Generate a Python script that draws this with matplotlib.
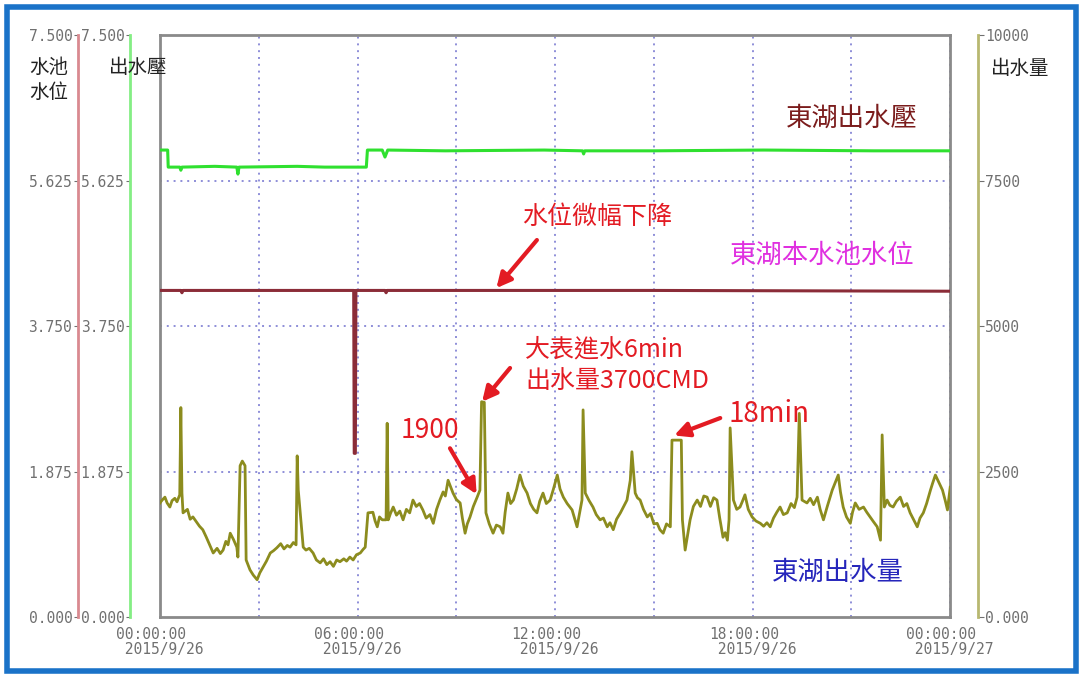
import matplotlib
matplotlib.use("Agg")
import matplotlib.pyplot as plt
from matplotlib.patches import Rectangle

plt.rcParams["font.family"] = ["Noto Sans CJK TC", "DejaVu Sans"]

# minutes since 2015/9/26 00:00, outlet flow in CMD
flow_min = [0, 4, 9, 13, 18, 22, 27, 31, 36, 38,
            40, 42, 50, 55, 60, 66, 72, 78, 84, 90,
            97, 104, 110, 115, 120, 124, 128, 134, 140, 142,
            146, 150, 155, 157, 164, 170, 177, 182, 188, 194,
            201, 207, 213, 220, 226, 232, 237, 243, 248, 250,
            252, 261, 266, 272, 279, 285, 292, 298, 304, 310,
            316, 322, 328, 335, 340, 346, 352, 358, 365, 370,
            374, 379, 388, 392, 396, 400, 405, 412, 414, 416,
            420, 425, 431, 437, 443, 449, 455, 461, 467, 473,
            479, 485, 492, 498, 504, 510, 516, 520, 525, 529,
            534, 540, 547, 551, 556, 560, 565, 571, 578, 583,
            586, 591, 594, 600, 607, 613, 620, 625, 629, 634,
            639, 644, 650, 656, 662, 669, 675, 681, 687, 692,
            698, 704, 711, 717, 724, 729, 735, 742, 751, 760,
            769, 771, 775, 782, 789, 795, 802, 808, 815, 820,
            826, 832, 839, 845, 851, 857, 860, 866, 870, 875,
            881, 888, 894, 900, 906, 911, 917, 923, 930, 933,
            950, 952, 957, 966, 972, 979, 985, 991, 997, 1003,
            1009, 1015, 1020, 1026, 1030, 1034, 1037, 1039, 1045, 1051,
            1057, 1061, 1066, 1072, 1079, 1086, 1094, 1100, 1106, 1112,
            1118, 1124, 1130, 1136, 1143, 1150, 1156, 1161, 1165, 1170,
            1179, 1185, 1191, 1198, 1203, 1209, 1216, 1225, 1230, 1236,
            1240, 1245, 1251, 1258, 1262, 1267, 1274, 1282, 1288, 1294,
            1300, 1307, 1313, 1316, 1320, 1325, 1330, 1336, 1342, 1349,
            1355, 1361, 1367, 1373, 1380, 1385, 1391, 1397, 1404, 1408,
            1413, 1420, 1426, 1431, 1435, 1440]
flow_cmd = [1960, 2010, 2060, 1960, 1890, 2000, 2040, 1980, 2100, 3600,
            2130, 1790, 1850, 1680, 1720, 1640, 1560, 1500, 1380, 1250,
            1100, 1180, 1090, 1150, 1300, 1240, 1440, 1330, 1200, 1030,
            2600, 2680, 2600, 980, 810, 720, 640, 760, 860, 960,
            1100, 1140, 1190, 1260, 1170, 1230, 1200, 1280, 1240, 2770,
            2180, 1200, 1150, 1180, 1100, 980, 930, 1000, 900, 950,
            870, 980, 950, 1000, 960, 1030, 980, 1070, 1100, 1160,
            1200, 1790, 1800, 1650, 1550, 1720, 1670, 1670, 3330, 1670,
            1780, 1890, 1750, 1820, 1670, 1850, 1790, 2010, 1900, 1950,
            1840, 1700, 1760, 1610, 1850, 2010, 2150, 2080, 2350, 2250,
            2130, 2020, 1960, 1700, 1440, 1600, 1720, 1900, 2060, 2180,
            3700, 3690, 1790, 1600, 1440, 1580, 1550, 1440, 1800, 2130,
            1950, 2010, 2200, 2440, 2250, 2130, 1950, 1850, 1790, 1990,
            2130, 1950, 2010, 2200, 2440, 2200, 2060, 1950, 1840, 1550,
            2010, 3560, 2130, 2000, 1890, 1760, 1670, 1700, 1550, 1620,
            1500, 1680, 1790, 1900, 2010, 2350, 2840, 2130, 2050, 2010,
            1850, 1720, 1780, 1600, 1610, 1500, 1440, 1600, 1550, 3040,
            3040, 1670, 1150, 1670, 1900, 2010, 1900, 2080, 2060, 1900,
            2050, 2010, 1700, 1370, 1450, 1320, 1670, 3250, 2010, 1850,
            1890, 1980, 2100, 1850, 1720, 1650, 1610, 1560, 1620, 1550,
            1700, 1800, 1890, 1760, 1790, 1950, 1880, 2060, 3500, 2010,
            1960, 2040, 1930, 2060, 1850, 1670, 1900, 2180, 2300, 2440,
            2150, 1890, 1720, 1610, 1800, 1960, 1850, 1890, 1800, 1720,
            1640, 1550, 1320, 3130, 1890, 2010, 1920, 1890, 1990, 2060,
            1900, 1950, 1790, 1680, 1550, 1700, 1790, 1950, 2180, 2300,
            2440, 2300, 2180, 2000, 1840, 2230]

press_min = [0, 14, 15, 36, 38, 40, 100, 140, 142, 144, 250, 300,
             376, 378, 405, 410, 415, 520, 700, 770, 772, 774, 900, 1100, 1300, 1440]
press_val = [6.02, 6.02, 5.80, 5.80, 5.76, 5.80, 5.81, 5.80, 5.71, 5.80, 5.81, 5.80,
             5.80, 6.02, 6.02, 5.93, 6.02, 6.01, 6.02, 6.01, 5.97, 6.01, 6.01, 6.02, 6.01, 6.01]

level_min = [0, 38, 40, 42, 200, 353, 354, 356, 357, 410, 412, 414, 900, 1440]
level_val = [4.21, 4.21, 4.18, 4.21, 4.21, 4.21, 2.11, 2.11, 4.21, 4.21, 4.18, 4.21, 4.21, 4.20]

tick_min = [0, 180, 360, 540, 720, 900, 1080, 1260, 1440]
tick_text = ["00:00:00\n 2015/9/26", "", "06:00:00\n 2015/9/26", "",
             "12:00:00\n 2015/9/26", "", "18:00:00\n 2015/9/26", "",
             "00:00:00\n 2015/9/27"]
left_ticks = [0, 1.875, 3.75, 5.625, 7.5]
left_labels = ["0.000", "1.875", "3.750", "5.625", "7.500"]
flow_ticks = [0, 2500, 5000, 7500, 10000]
flow_labels = ["0.000", "2500", "5000", "7500", "10000"]

TICK_FONT = dict(family="DejaVu Sans Mono", size=10.5)
TICK_COLOR = "#707070"
RED = "#e31b23"

fig = plt.figure(figsize=(10.81, 6.78), dpi=100)
ax = fig.add_axes([0.148, 0.090, 0.731, 0.858])
ax.set_xlim(0, 1440)
ax.set_ylim(0, 7.5)
for sp in ax.spines.values():
    sp.set_color("#8a8a8a")
    sp.set_linewidth(2)
ax.set_yticks([1.875, 3.75, 5.625])
ax.set_yticklabels([])
ax.set_xticks(tick_min)
ax.set_xticklabels(tick_text, fontdict=TICK_FONT, color=TICK_COLOR, linespacing=1.0,
                   multialignment="left")
ax.tick_params(axis="both", length=0, pad=7)
ax.grid(True, color="#8e8ed8", linestyle=(0, (1, 2.5)), linewidth=1.4)

# water level axis (far left)
lv = ax.twinx()
lv.set_ylim(0, 7.5)
for name in ["top", "bottom", "right"]:
    lv.spines[name].set_visible(False)
lv.spines["left"].set_visible(True)
lv.spines["left"].set_position(("axes", -0.104))
lv.spines["left"].set_color("#d98a90")
lv.spines["left"].set_linewidth(2)
lv.yaxis.set_ticks_position("left")
lv.set_yticks(left_ticks)
lv.set_yticklabels(left_labels, fontdict=TICK_FONT, color=TICK_COLOR)
lv.tick_params(axis="y", length=3, pad=1, color=TICK_COLOR)
lv.plot(level_min, level_val, color="#8b2c38", linewidth=2.2, zorder=3)

# outlet pressure axis
pr = ax.twinx()
pr.set_ylim(0, 7.5)
for name in ["top", "bottom", "right"]:
    pr.spines[name].set_visible(False)
pr.spines["left"].set_visible(True)
pr.spines["left"].set_position(("axes", -0.038))
pr.spines["left"].set_color("#84ee84")
pr.spines["left"].set_linewidth(2)
pr.yaxis.set_ticks_position("left")
pr.set_yticks(left_ticks)
pr.set_yticklabels(left_labels, fontdict=TICK_FONT, color=TICK_COLOR)
pr.tick_params(axis="y", length=3, pad=1, color=TICK_COLOR)
pr.plot(press_min, press_val, color="#2fe02f", linewidth=2.2, zorder=3)

# outlet flow axis (right)
fl = ax.twinx()
fl.set_ylim(0, 10000)
for name in ["top", "bottom", "left"]:
    fl.spines[name].set_visible(False)
fl.spines["right"].set_position(("axes", 1.035))
fl.spines["right"].set_color("#b8b870")
fl.spines["right"].set_linewidth(2)
fl.set_yticks(flow_ticks)
fl.set_yticklabels(flow_labels, fontdict=TICK_FONT, color=TICK_COLOR)
fl.tick_params(axis="y", length=4, pad=1, color=TICK_COLOR)
fl.plot(flow_min, flow_cmd, color="#8c8c1e", linewidth=2.0, zorder=3)

# axis captions
fig.text(49 / 1081, 1 - 80 / 678, "水池\n水位", ha="center", va="center",
         fontsize=14, color="#222222", linespacing=1.25)
fig.text(138 / 1081, 1 - 67 / 678, "出水壓", ha="center", va="center",
         fontsize=14, color="#222222")
fig.text(1020 / 1081, 1 - 68 / 678, "出水量", ha="center", va="center",
         fontsize=14, color="#222222")

# series names
ax.text(0.875, 0.857, "東湖出水壓", transform=ax.transAxes, ha="center", va="center",
        fontsize=19, color="#7b1c1c", zorder=5)
ax.text(0.838, 0.622, "東湖本水池水位", transform=ax.transAxes, ha="center", va="center",
        fontsize=19, color="#e030e0", zorder=5)
ax.text(0.858, 0.077, "東湖出水量", transform=ax.transAxes, ha="center", va="center",
        fontsize=19, color="#2626bb", zorder=5)

# red notes
arrow = dict(arrowstyle="-|>", color=RED, lw=3, mutation_scale=22, shrinkA=0, shrinkB=0)
ax.text(0.553, 0.687, "水位微幅下降", transform=ax.transAxes, ha="center", va="center",
        fontsize=18, color=RED, zorder=5)
lv.annotate("", xy=(613, 4.24), xytext=(0.477, 0.648), textcoords=ax.transAxes,
            arrowprops=arrow, zorder=6)
ax.text(0.462, 0.433, "大表進水6min\n出水量3700CMD", transform=ax.transAxes,
        ha="left", va="center", fontsize=18, color=RED, linespacing=1.3, zorder=5)
fl.annotate("", xy=(587, 3700), xytext=(0.443, 0.428), textcoords=ax.transAxes,
            arrowprops=arrow, zorder=6)
ax.text(0.304, 0.321, "1900", transform=ax.transAxes, ha="left", va="center",
        fontsize=19, color=RED, zorder=5)
fl.annotate("", xy=(577, 2110), xytext=(0.367, 0.290), textcoords=ax.transAxes,
            arrowprops=arrow, zorder=6)
ax.text(0.719, 0.349, "18min", transform=ax.transAxes, ha="left", va="center",
        fontsize=20, color=RED, zorder=5)
fl.annotate("", xy=(937, 3120), xytext=(0.709, 0.342), textcoords=ax.transAxes,
            arrowprops=arrow, zorder=6)

# blue outer frame
fig.patches.append(Rectangle((7.5 / 1081, 7.5 / 678), 1068 / 1081, 664 / 678,
                             transform=fig.transFigure, fill=False,
                             edgecolor="#1a72c8", linewidth=4))

fig.savefig("out.png", dpi=100)
